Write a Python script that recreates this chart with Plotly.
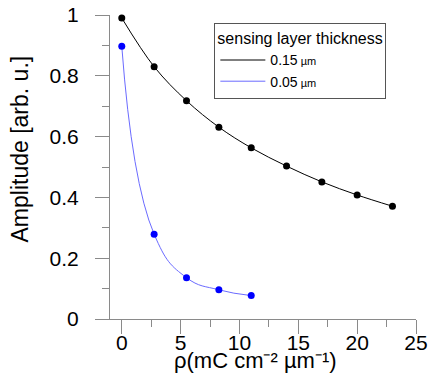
import plotly.graph_objects as go

x_thick = [0, 2.75, 5.5, 8.25, 11, 14, 17, 20, 23]
y_thick = [0.99, 0.83, 0.718, 0.631, 0.563, 0.503, 0.451, 0.408, 0.371]
x_thin = [0, 2.75, 5.5, 8.25, 11]
y_thin = [0.897, 0.279, 0.136, 0.096, 0.077]

names = ["0.15<span style='font-size:11px'> µm</span>", "0.05<span style='font-size:11px'> µm</span>"]
FONT = "Liberation Sans, Arial, sans-serif"
AXC = "#8a8a8a"

fig = go.Figure()
fig.add_trace(go.Scatter(x=x_thick, y=y_thick, mode="lines", line=dict(color="black", width=1, shape="spline", smoothing=1.0), name=names[0]))
fig.add_trace(go.Scatter(x=x_thin, y=y_thin, mode="lines", line=dict(color="#6b6bff", width=1, shape="spline", smoothing=1.3), name=names[1]))
fig.add_trace(go.Scatter(x=x_thick, y=y_thick, mode="markers", marker=dict(color="black", size=7), showlegend=False, cliponaxis=False))
fig.add_trace(go.Scatter(x=x_thin, y=y_thin, mode="markers", marker=dict(color="#0000ff", size=7), showlegend=False, cliponaxis=False))

axis_common = dict(showline=True, linecolor=AXC, linewidth=1, ticks="outside", ticklen=14, tickcolor=AXC,
                   tickwidth=1, showgrid=False, zeroline=False, automargin=False,
                   tickfont=dict(size=21, color="black", family=FONT))
fig.update_xaxes(range=[-1, 25], tickvals=[0, 5, 10, 15, 20, 25],
                 minor=dict(tickvals=[2.5, 7.5, 12.5, 17.5, 22.5], ticklen=7, tickcolor=AXC, ticks="outside"),
                 ticklabelstandoff=-9, **axis_common)
fig.update_yaxes(range=[0, 1], tickvals=[0, 0.2, 0.4, 0.6, 0.8, 1],
                 minor=dict(tickvals=[0.1, 0.3, 0.5, 0.7, 0.9], ticklen=7, tickcolor=AXC, ticks="outside"),
                 ticklabelstandoff=12, **axis_common)

fig.update_layout(
    width=429, height=385,
    margin=dict(l=110, r=13, t=14.5, b=66, autoexpand=False),
    plot_bgcolor="white", paper_bgcolor="white",
    font=dict(family=FONT, color="black"),
    legend=dict(x=0.341, y=0.975, xanchor="left", yanchor="top",
                title=dict(text="sensing layer thickness", font=dict(size=16)),
                font=dict(size=14), bordercolor="#555555", borderwidth=1, bgcolor="white",
                itemwidth=45, tracegroupgap=0),
    annotations=[
        dict(text="Amplitude [arb. u.]", xref="paper", yref="paper", x=-0.295, y=0.56,
             textangle=-90, showarrow=False, font=dict(size=23), xanchor="center", yanchor="middle"),
        dict(text="ρ(mC cm⁻² µm⁻¹)", xref="paper", yref="paper", x=0.477, y=-0.137,
             showarrow=False, font=dict(size=22), xanchor="center", yanchor="middle"),
    ],
)

fig.write_html("out.html")
